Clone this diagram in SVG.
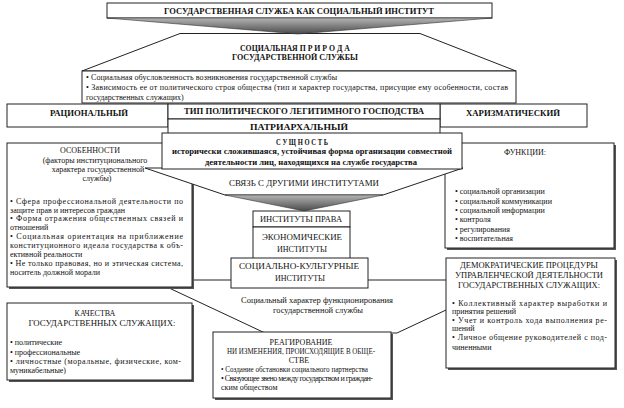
<svg xmlns="http://www.w3.org/2000/svg" width="624" height="408" viewBox="0 0 624 408">
<style>
.b{fill:#fff;stroke:#222;stroke-width:1}
.sh{fill:#555}
.t{font-family:"Liberation Serif","Times New Roman",serif;font-size:8px;fill:#111}
.c{text-anchor:middle}
.bd{font-weight:bold}
</style>
<defs>
<linearGradient id="g1" x1="0" y1="0" x2="0" y2="1">
<stop offset="0" stop-color="#b4b4b4"/><stop offset="1" stop-color="#4a4a4a"/>
</linearGradient>
</defs>
<rect width="624" height="408" fill="#fff"/>

<g id="title">
<rect class="b" x="107" y="3" width="385" height="15"/>
<text class="t bd c" x="299" y="14" font-size="8.5" textLength="270" lengthAdjust="spacingAndGlyphs">ГОСУДАРСТВЕННАЯ СЛУЖБА КАК СОЦИАЛЬНЫЙ ИНСТИТУТ</text>
</g>

<g id="social-nature">
<polygon class="b" points="180,33.5 420,33.5 516,71 82,71"/>
<text class="t bd c" x="295" y="51" font-size="8.5" textLength="110" lengthAdjust="spacingAndGlyphs">СОЦИАЛЬНАЯ П Р И Р О Д А</text>
<text class="t bd c" x="295" y="60" font-size="8.5" textLength="126" lengthAdjust="spacingAndGlyphs">ГОСУДАРСТВЕННОЙ СЛУЖБЫ</text>
<rect class="b" x="82" y="71" width="434" height="32"/>
<text class="t" x="86" y="80" font-size="7.5" textLength="251" lengthAdjust="spacing">• Социальная обусловленность возникновения государственной службы</text>
<text class="t" x="86" y="90" font-size="7.5" textLength="422" lengthAdjust="spacing">• Зависимость ее от политического строя общества (тип и характер государства, присущие ему особенности, состав</text>
<text class="t" x="86" y="100" font-size="7.5">государственных служащих)</text>
</g>

<g id="rational">
<rect class="b" x="7" y="104" width="161" height="23"/>
<text class="t bd c" x="89" y="116" textLength="78" lengthAdjust="spacingAndGlyphs">РАЦИОНАЛЬНЫЙ</text>
</g>
<g id="charismatic">
<rect class="b" x="440" y="104" width="147" height="23"/>
<text class="t bd c" x="513" y="116" textLength="94" lengthAdjust="spacingAndGlyphs">ХАРИЗМАТИЧЕСКИЙ</text>
</g>
<g id="legitimate-type">
<rect class="b" x="168" y="104" width="272" height="15"/>
<text class="t bd c" x="304" y="114" textLength="240" lengthAdjust="spacingAndGlyphs">ТИП ПОЛИТИЧЕСКОГО ЛЕГИТИМНОГО ГОСПОДСТВА</text>
</g>
<g id="patriarchal">
<rect class="b" x="168" y="119" width="272" height="18"/>
<text class="t bd c" x="299" y="130" textLength="98" lengthAdjust="spacingAndGlyphs">ПАТРИАРХАЛЬНЫЙ</text>
</g>

<g id="social-character">
<polygon class="b" points="152,280 510,280 397,333 265,333"/>
<text class="t c" x="317" y="303" textLength="152" lengthAdjust="spacingAndGlyphs">Социальный характер функционирования</text>
<text class="t c" x="318" y="313" textLength="90" lengthAdjust="spacingAndGlyphs">государственной службы</text>
</g>

<g id="features">
<rect class="sh" x="9" y="145" width="185" height="144"/>
<rect class="b" x="7" y="143" width="185" height="144"/>
<text class="t c" x="90" y="153">ОСОБЕННОСТИ</text>
<text class="t c" x="95" y="163">(факторы институционального</text>
<text class="t c" x="98" y="172">характера государственной</text>
<text class="t c" x="97" y="181">службы)</text>
<text class="t" x="10" y="204" textLength="173" lengthAdjust="spacing">• Сфера профессиональной деятельности по</text>
<text class="t" x="10" y="213">защите прав и интересов граждан</text>
<text class="t" x="10" y="221" textLength="173" lengthAdjust="spacing">• Форма отражения общественных связей и</text>
<text class="t" x="10" y="230">отношений</text>
<text class="t" x="10" y="239" textLength="173" lengthAdjust="spacing">• Социальная ориентация на приближение</text>
<text class="t" x="10" y="248" textLength="173" lengthAdjust="spacing">конституционного идеала государства к объ-</text>
<text class="t" x="10" y="257">ективной реальности</text>
<text class="t" x="10" y="266" textLength="173" lengthAdjust="spacing">• Не только правовая, но и этическая система,</text>
<text class="t" x="10" y="275">носитель должной морали</text>
</g>

<g id="functions">
<rect class="sh" x="447" y="145" width="169" height="105"/>
<rect class="b" x="445" y="143" width="169" height="105"/>
<text class="t c" x="525" y="155">ФУНКЦИИ:</text>
<text class="t" x="455" y="194">• социальной организации</text>
<text class="t" x="455" y="204">• социальной коммуникации</text>
<text class="t" x="455" y="213">• социальной информации</text>
<text class="t" x="455" y="222">• контроля</text>
<text class="t" x="455" y="232">• регулирования</text>
<text class="t" x="455" y="241">• воспитательная</text>
</g>

<g id="links">
<polygon class="b" points="145,168 463,168 383,195 225,195"/>
<text class="t c" x="304" y="186" textLength="150" lengthAdjust="spacingAndGlyphs">СВЯЗЬ С ДРУГИМИ ИНСТИТУТАМИ</text>
</g>

<g id="essence">
<rect class="b" x="162" y="133" width="300" height="36"/>
<text class="t bd c" x="302" y="145" font-size="9" textLength="52" lengthAdjust="spacingAndGlyphs">С У Щ Н О С Т Ь</text>
<text class="t bd c" x="312" y="154" font-size="7.5" textLength="280" lengthAdjust="spacingAndGlyphs">исторически сложившаяся, устойчивая форма организации совместной</text>
<text class="t bd c" x="311" y="165" font-size="7.5" textLength="212" lengthAdjust="spacingAndGlyphs">деятельности лиц, находящихся на службе государства</text>
</g>

<g id="law-institutes">
<rect class="b" x="253" y="211" width="97" height="16"/>
<text class="t c" x="301" y="222" textLength="82" lengthAdjust="spacingAndGlyphs">ИНСТИТУТЫ ПРАВА</text>
</g>
<g id="economic-institutes">
<rect class="b" x="253" y="227" width="97" height="32"/>
<text class="t c" x="302" y="240" textLength="80" lengthAdjust="spacingAndGlyphs">ЭКОНОМИЧЕСКИЕ</text>
<text class="t c" x="302" y="252" textLength="50" lengthAdjust="spacingAndGlyphs">ИНСТИТУТЫ</text>
</g>
<g id="sociocultural-institutes">
<rect class="b" x="231" y="258" width="137" height="30"/>
<text class="t c" x="299" y="269" textLength="120" lengthAdjust="spacingAndGlyphs">СОЦИАЛЬНО-КУЛЬТУРНЫЕ</text>
<text class="t c" x="300" y="281" textLength="50" lengthAdjust="spacingAndGlyphs">ИНСТИТУТЫ</text>
</g>

<g id="qualities">
<rect class="sh" x="9" y="305" width="185" height="77"/>
<rect class="b" x="7" y="303" width="185" height="77"/>
<text class="t c" x="95" y="316">КАЧЕСТВА</text>
<text class="t c" x="102" y="326" textLength="147" lengthAdjust="spacingAndGlyphs">ГОСУДАРСТВЕННЫХ СЛУЖАЩИХ:</text>
<text class="t" x="10" y="345">• политические</text>
<text class="t" x="10" y="355">• профессиональные</text>
<text class="t" x="10" y="364" textLength="171" lengthAdjust="spacing">• личностные (моральные, физические, ком-</text>
<text class="t" x="10" y="373">муникабельные)</text>
</g>

<g id="democratic">
<rect class="sh" x="448" y="260" width="169" height="110"/>
<rect class="b" x="446" y="258" width="169" height="110"/>
<text class="t c" x="529" y="268" textLength="138" lengthAdjust="spacingAndGlyphs">ДЕМОКРАТИЧЕСКИЕ ПРОЦЕДУРЫ</text>
<text class="t c" x="529" y="278" textLength="148" lengthAdjust="spacingAndGlyphs">УПРАВЛЕНЧЕСКОЙ ДЕЯТЕЛЬНОСТИ</text>
<text class="t c" x="529" y="288" textLength="142" lengthAdjust="spacingAndGlyphs">ГОСУДАРСТВЕННЫХ СЛУЖАЩИХ:</text>
<text class="t" x="452" y="306" textLength="155" lengthAdjust="spacing">• Коллективный характер выработки и</text>
<text class="t" x="452" y="314">принятия решений</text>
<text class="t" x="452" y="323" textLength="155" lengthAdjust="spacing">• Учет и контроль хода выполнения ре-</text>
<text class="t" x="452" y="331">шений</text>
<text class="t" x="452" y="340" textLength="155" lengthAdjust="spacing">• Личное общение руководителей с под-</text>
<text class="t" x="452" y="350">чиненными</text>
</g>

<g id="reaction">
<rect class="sh" x="215" y="334" width="178" height="66"/>
<rect class="b" x="213" y="332" width="178" height="66"/>
<text class="t c" x="301" y="345">РЕАГИРОВАНИЕ</text>
<text class="t c" x="301" y="354" textLength="148" lengthAdjust="spacingAndGlyphs">НИ ИЗМЕНЕНИЯ, ПРОИСХОДЯЩИЕ В ОБЩЕ-</text>
<text class="t c" x="299" y="363">СТВЕ</text>
<text class="t" x="221" y="372" textLength="147" lengthAdjust="spacingAndGlyphs">• Создание обстановки социального партнерства</text>
<text class="t" x="221" y="381" textLength="152" lengthAdjust="spacing">• Связующее звено между государством и граждан-</text>
<text class="t" x="221" y="390">ским обществом</text>
</g>

<g id="connectors">
<polygon points="107,18 492,18 298,34" fill="url(#g1)" stroke="#333" stroke-width="0.6"/>
<polygon points="225,195 383,195 304,211" fill="url(#g1)" stroke="#333" stroke-width="0.6"/>
</g>
</svg>
